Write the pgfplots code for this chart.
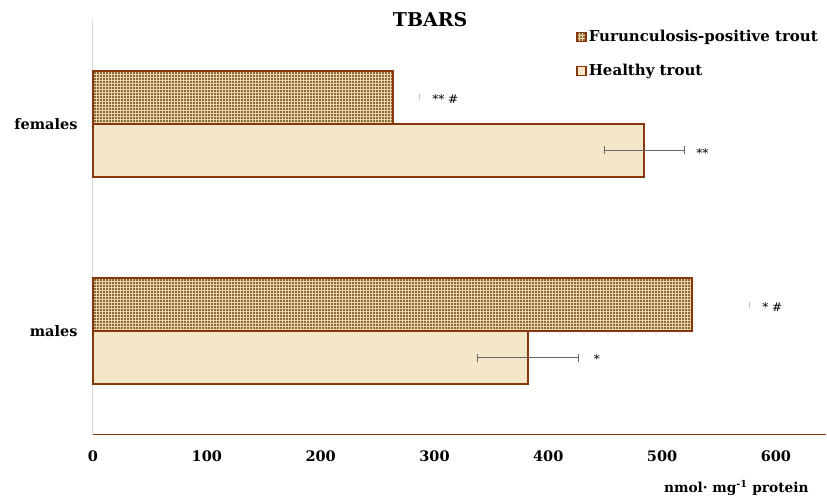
\documentclass[border=0pt]{standalone}
\usepackage{pgfplots}
\pgfplotsset{compat=1.18}
\usepackage{fontspec}
\setmainfont{DejaVu Serif}
\usetikzlibrary{patterns}
\definecolor{brd}{RGB}{135,55,10}
\definecolor{furfill}{RGB}{140,108,62}
\definecolor{furpat}{RGB}{232,212,165}
\definecolor{healthy}{RGB}{244,231,200}
\begin{document}
\begin{tikzpicture}
\begin{axis}[
  scale only axis, width=733pt, height=415pt,
  xbar, xmin=0, xmax=644, ymin=-0.5, ymax=1.5,
  bar width=0.256,
  clip=false,
  ytick={0,1}, yticklabels={males,females},
  xtick={0,100,...,600},
  axis x line*=bottom, axis y line*=left,
  x axis line style={-, draw=brd, line width=1pt},
  y axis line style={-, draw=black!15, line width=1pt},
  major tick length=0pt,
  tick label style={font=\bfseries\fontsize{14.5}{16}\selectfont},
  /pgf/number format/assume math mode=true,
  xticklabel style={yshift=-12pt},
  yticklabel style={xshift=-12pt},
  legend style={at={(0.655,0.985)}, anchor=north west, draw=none, fill=none,
    font=\bfseries\fontsize{15}{17}\selectfont, row sep=17pt},
  legend cell align=left,
  legend image code/.code={\draw[#1, line width=1.5pt] (0pt,-4.5pt) rectangle (9pt,4.5pt);},
]
\addplot[draw=brd, line width=2.2pt, fill=furfill,
  postaction={pattern=grid, pattern color=furpat}, bar shift=0.128]
  coordinates {(263.6,1) (526.4,0)};
\addlegendentry{Furunculosis-positive trout}
\addplot[draw=brd, line width=2.2pt, fill=healthy, bar shift=-0.128]
  coordinates {(484.2,1) (382,0)};
\addlegendentry{Healthy trout}
% error bars (furunculosis: only the cap is visible)
\addplot[forget plot, sharp plot, draw=none, mark=none, bar shift=0pt,
  error bars/.cd, x dir=plus, x explicit,
  error bar style={draw opacity=0},
  error mark=|,
  error mark options={draw=black!25, draw opacity=1, line width=0.6pt, mark size=3pt}]
  coordinates {(263.6,1.128) +- (23,0) (526.4,0.128) +- (50,0)};
\addplot[forget plot, sharp plot, draw=none, mark=none, bar shift=0pt,
  error bars/.cd, x dir=both, x explicit,
  error bar style={draw=black!60, line width=0.7pt},
  error mark=|,
  error mark options={draw=black!60, line width=0.7pt, mark size=4pt}]
  coordinates {(484.2,0.872) +- (35,0) (382,-0.128) +- (44,0)};
\node[font=\fontsize{12}{14}\selectfont, anchor=west] at (axis cs:295,1.12) {**\ \#};
\node[font=\fontsize{12}{14}\selectfont, anchor=west] at (axis cs:527,0.86) {**};
\node[font=\fontsize{12}{14}\selectfont, anchor=west] at (axis cs:585,0.117) {*\ \#};
\node[font=\fontsize{12}{14}\selectfont, anchor=west] at (axis cs:437,-0.136) {*};
\node[font=\bfseries\fontsize{19}{22}\selectfont] at (rel axis cs:0.46,1.001) {TBARS};
\node[font=\bfseries\fontsize{13.7}{15}\selectfont, anchor=east] at ([yshift=-53pt]rel axis cs:0.981,0) {nmol· mg\textsuperscript{-1} protein};
\end{axis}
\pgfresetboundingbox
\path[use as bounding box] ([xshift=-93pt,yshift=-62pt]current axis.south west) rectangle ([xshift=1pt,yshift=20pt]current axis.north east);
\end{tikzpicture}
\end{document}
